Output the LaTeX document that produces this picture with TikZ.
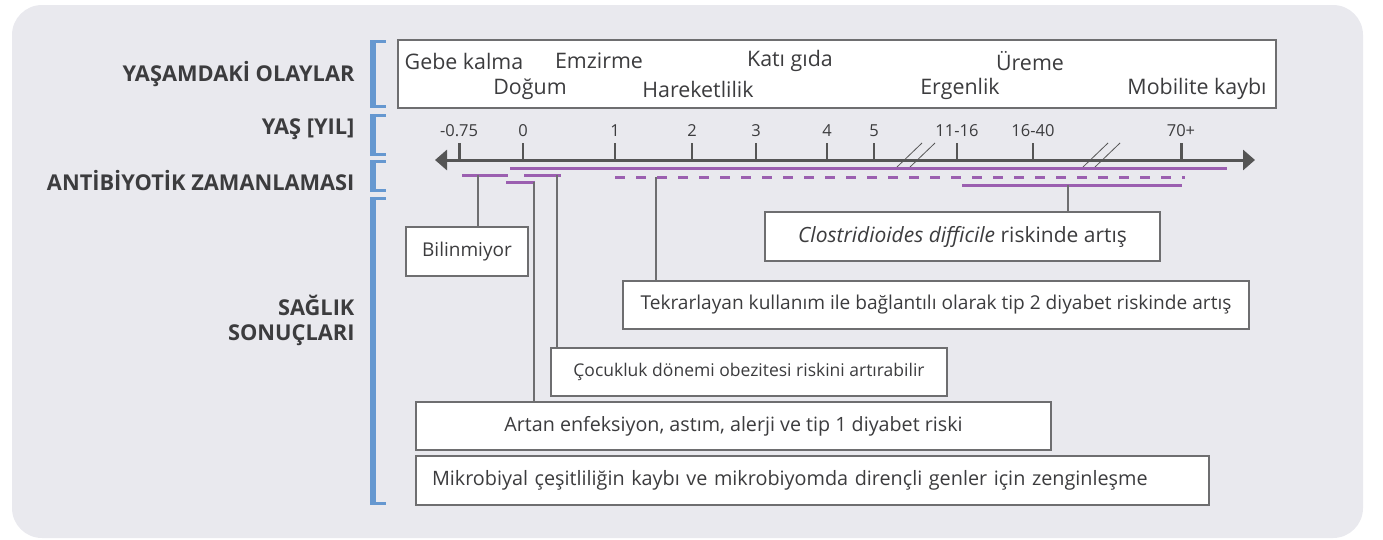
\documentclass[tikz,border=0pt]{standalone}
\usepackage{fontspec}
\setmainfont{Open Sans}
\usetikzlibrary{arrows.meta, positioning}

\definecolor{bgpanel}{RGB}{233,233,238}
\definecolor{labtext}{RGB}{60,60,62}
\definecolor{boxline}{RGB}{110,110,112}
\definecolor{axisgray}{RGB}{85,85,85}
\definecolor{abpurple}{RGB}{155,95,176}
\definecolor{brblue}{RGB}{102,152,208}

\begin{document}
\begin{tikzpicture}[
    x=1pt, y=-1pt,
    font=\fontsize{19.5}{23}\selectfont,
    rowlabel/.style={anchor=east, align=right, text=labtext, font=\fontsize{21.8}{25}\selectfont\bfseries},
    bracket/.style={fill=brblue},
    box/.style={draw=boxline, line width=1.4pt, fill=white, text=labtext, inner sep=0pt},
    event/.style={text=labtext, inner sep=0pt, font=\fontsize{21.4}{24}\selectfont},
    agelab/.style={text=labtext, inner sep=0pt, font=\fontsize{16.5}{19}\selectfont},
    tick/.style={draw=axisgray, line width=1.2pt},
    bigtick/.style={draw=axisgray, line width=3pt},
    brk/.style={draw=axisgray, line width=0.8pt},
    abline/.style={draw=abpurple, line width=3pt},
    conn/.style={draw=boxline, line width=1.2pt}
]
\useasboundingbox (0,0) rectangle (1383,539);
\fill[bgpanel, rounded corners=30pt] (12,5) rectangle (1363,538);

% Row labels with brackets
\node[rowlabel] (lEvents) at (358,74) {YAŞAMDAKİ OLAYLAR};
\node[rowlabel] (lAge) at (358,129) {YAŞ [YIL]};
\node[rowlabel] (lTiming) at (358,181) {ANTİBİYOTİK ZAMANLAMASI};
\node[rowlabel] (lHealth) at (358,320) {SAĞLIK\\SONUÇLARI};

\foreach \ya/\yb in {40/108, 114/156, 160/192, 197/505} {
    \fill[bracket] (370,\ya) rectangle (376,\yb);
    \fill[bracket] (370,\ya) rectangle (386,\ya+3);
    \fill[bracket] (370,\yb-3) rectangle (386,\yb);
}

% Life events
\node[box, minimum width=878, minimum height=68] (events) at (837,74) {};
\node[event] (eGebe) at (464,61) {Gebe kalma};
\node[event] (eEmzir) at (599,61) {Emzirme};
\node[event] (eKati) at (790,61) {Katı gıda};
\node[event] (eUreme) at (1030,61) {Üreme};
\node[event] (eDogum) at (530,89) {Doğum};
\node[event] (eHarek) at (698,89) {Hareketlilik};
\node[event] (eErgen) at (960,89) {Ergenlik};
\node[event] (eMobil) at (1197,89) {Mobilite kaybı};

% Age axis
\coordinate (axL) at (435,160);
\coordinate (axR) at (1255,160);
\draw[draw=axisgray, line width=3pt, {Triangle[length=12pt, width=20pt]}-{Triangle[length=12pt, width=20pt]}] (axL) -- (axR);
\draw[bigtick] (459,143) -- (459,160);
\node[agelab] (tm) at (459,131) {-0.75};
\foreach \x/\lab in {523/0, 615/1, 692/2, 756/3, 827/4, 874/5, 957/11-16, 1033/16-40} {
    \draw[tick] (\x,143) -- (\x,160);
    \node[agelab] (t\x) at (\x,131) {\lab};
}
\draw[bigtick] (1181,143) -- (1181,160);
\node[agelab] (t70) at (1181,131) {70+};
% axis breaks
\draw[brk] (897,167) -- (922,143) (910,167) -- (935,143);
\draw[brk] (1083,167) -- (1108,143) (1095,167) -- (1120,143);

% Antibiotic timing
\draw[abline] (510,168) -- (1227,168);
\draw[abline] (462,175) -- (508,175);
\draw[abline] (524,175) -- (561,175);
\draw[abline] (506,182) -- (535,182);
\draw[abline, dash pattern=on 10pt off 11pt] (615,177) -- (1185,177);
\draw[abline] (962,185) -- (1182,185);

\coordinate (cBil) at (478,175);
\coordinate (cArtan) at (534,182);
\coordinate (cCocuk) at (557,175);
\coordinate (cTekr) at (656,177);
\coordinate (cClos) at (1068,185);

% Health outcomes
\node[box, minimum width=122, minimum height=49, font=\fontsize{19}{22}\selectfont] (bil) at (467,251.5) {Bilinmiyor};
\node[box, minimum width=395, minimum height=49, font=\fontsize{21}{24}\selectfont] (clos) at (962.5,236.5) {\textit{Clostridioides difficile} riskinde artış};
\node[box, minimum width=626, minimum height=48, font=\fontsize{19.1}{22}\selectfont] (tekr) at (936,305) {Tekrarlayan kullanım ile bağlantılı olarak tip 2 diyabet riskinde artış};
\node[box, minimum width=396, minimum height=48, font=\fontsize{17.5}{20}\selectfont] (cocuk) at (749,372) {Çocukluk dönemi obezitesi riskini artırabilir};
\node[box, minimum width=635, minimum height=48, font=\fontsize{19.7}{22}\selectfont] (artan) at (733.5,426) {Artan enfeksiyon, astım, alerji ve tip 1 diyabet riski};
\node[box, minimum height=49, text width=761pt, inner xsep=16pt, align=left, font=\fontsize{19.8}{22}\selectfont] (mikro) at (812.5,480.5) {Mikrobiyal çeşitliliğin kaybı ve mikrobiyomda dirençli genler için zenginleşme};

\draw[conn] (cBil) -- (cBil |- bil.north);
\draw[conn] (cArtan) -- (cArtan |- artan.north);
\draw[conn] (cCocuk) -- (cCocuk |- cocuk.north);
\draw[conn] (cTekr) -- (cTekr |- tekr.north);
\draw[conn] (cClos) -- (cClos |- clos.north);

\end{tikzpicture}
\end{document}
